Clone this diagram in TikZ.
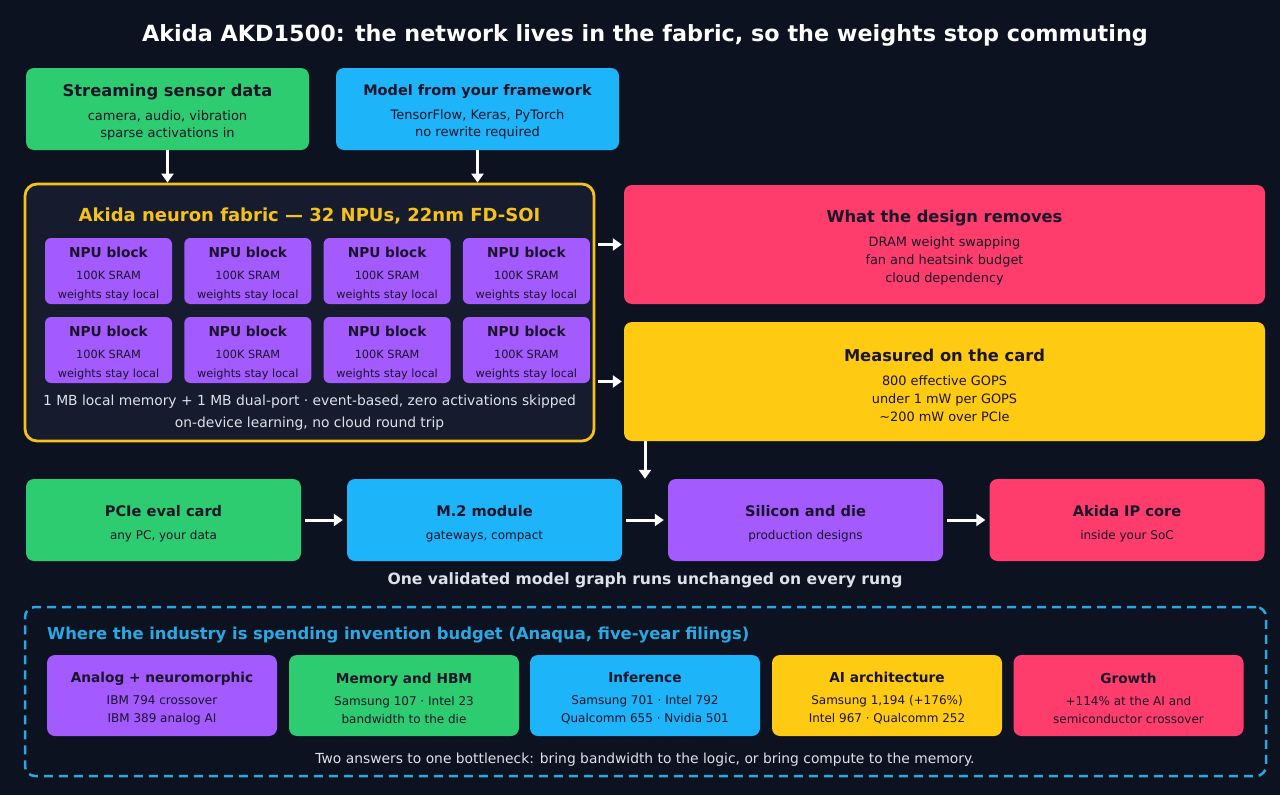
\documentclass[tikz,border=0pt]{standalone}
\usepackage{fontspec}
\setmainfont{DejaVu Sans}
\usetikzlibrary{arrows.meta, positioning}
\definecolor{bgc}{HTML}{0D1220}
\definecolor{fabfill}{HTML}{161C2D}
\definecolor{fabline}{HTML}{F5C21B}
\definecolor{ink}{HTML}{1A1528}
\definecolor{soft}{HTML}{DCE1EA}
\definecolor{cgreen}{HTML}{2ECC71}
\definecolor{cblue}{HTML}{1EB4FA}
\definecolor{cpurple}{HTML}{A35BFF}
\definecolor{cpink}{HTML}{FF3D6C}
\definecolor{cyellow}{HTML}{FFCA12}
\definecolor{dashblue}{HTML}{2AA8E2}
\tikzset{
    card/.style={rounded corners=8pt, text=ink, align=center, inner sep=0pt,
      minimum width=283pt, minimum height=82pt, font=\fontsize{13}{17.5}\selectfont},
    npu/.style={card, fill=cpurple, minimum width=127pt, minimum height=66pt,
      rounded corners=6pt, font=\fontsize{11.3}{19}\selectfont},
    filing/.style={card, minimum width=230pt, minimum height=81pt,
      font=\fontsize{12}{18}\selectfont},
    flow/.style={draw=white, line width=3pt, -{Triangle[width=12pt,length=9pt]}},
    note/.style={text=soft, align=center, font=\fontsize{13.85}{22}\selectfont}
  }
% bold heading line of a card, with a strut that sets the block a little lower
\newcommand{\hd}[2]{{\fontsize{#1}{#1}\selectfont\bfseries\rule{0pt}{1.2em}#2}}

\begin{document}
\begin{tikzpicture}[x=1pt, y=-1pt]
    \fill[bgc] (0,0) rectangle (1280,795);
    \node (title) at (645,35) [text=white, font=\fontsize{22.3}{26}\selectfont\bfseries] {Akida AKD1500: the network lives in the fabric, so the weights stop commuting};
    % inputs
    \node (sensor) at (167.5,109) [card, fill=cgreen] {\hd{16.3}{Streaming sensor data}\\[6pt]camera, audio, vibration\\sparse activations in};
    \node (model) at (477.5,109) [card, fill=cblue] {\hd{14.5}{Model from your framework}\\[6pt]TensorFlow, Keras, PyTorch\\no rewrite required};
    % fabric
    \node (fabric) at (309.5,312.5) [draw=fabline, line width=2.8pt, fill=fabfill, rounded corners=12pt, minimum width=569pt, minimum height=257pt] {};
    \node (fabtitle) at (309.5,216) [text=fabline, font=\fontsize{18}{20}\selectfont\bfseries] {Akida neuron fabric — 32 NPUs, 22nm FD-SOI};
    \foreach \r in {0,1}
      \foreach \c in {0,...,3}
        \node (npu-\r-\c) at ({108.5+139.3*\c},{271+79*\r}) [npu] {\hd{13.7}{NPU block}\\[3pt]100K SRAM\\weights stay local};
    \node (fabnote) at (309.5,413) [note] {1 MB local memory + 1 MB dual-port · event-based, zero activations skipped\\on-device learning, no cloud round trip};
    % outcomes
    \node (removes) at (944.5,244.5) [card, fill=cpink, minimum width=641pt, minimum height=119pt, font=\fontsize{12.9}{18}\selectfont] {\hd{16.3}{What the design removes}\\[6pt]DRAM weight swapping\\fan and heatsink budget\\cloud dependency};
    \node (measured) at (944.5,381.5) [card, fill=cyellow, minimum width=641pt, minimum height=119pt, font=\fontsize{12.9}{18}\selectfont] {\hd{16.3}{Measured on the card}\\[6pt]800 effective GOPS\\under 1 mW per GOPS\\\textasciitilde200 mW over PCIe};
    % deployment rungs
    \node (pcie) at (163.5,520) [card, fill=cgreen, minimum width=275pt, font=\fontsize{12}{18}\selectfont] {\hd{14.6}{PCIe eval card}\\[5pt]any PC, your data};
    \node (m2) at (484.5,520) [card, fill=cblue, minimum width=275pt, font=\fontsize{12}{18}\selectfont] {\hd{14.6}{M.2 module}\\[5pt]gateways, compact};
    \node (silicon) at (805.5,520) [card, fill=cpurple, minimum width=275pt, font=\fontsize{12}{18}\selectfont] {\hd{14.6}{Silicon and die}\\[5pt]production designs};
    \node (ipcore) at (1127,520) [card, fill=cpink, minimum width=275pt, font=\fontsize{12}{18}\selectfont] {\hd{14.6}{Akida IP core}\\[5pt]inside your SoC};
    \node (rungnote) at (645,580) [text=soft, font=\fontsize{15.6}{18}\selectfont\bfseries] {One validated model graph runs unchanged on every rung};
    \coordinate (drop) at (645,0);
    \draw[flow] (sensor.south) -- (sensor.south |- fabric.north);
    \draw[flow] (model.south) -- (model.south |- fabric.north);
    \draw[flow, shorten <=3pt, shorten >=2pt] (fabric.east |- removes.west) -- (removes.west);
    \draw[flow, shorten <=3pt, shorten >=2pt] (fabric.east |- measured.west) -- (measured.west);
    \draw[flow] (measured.south -| drop) -- (silicon.north -| drop);
    \draw[flow, shorten <=4pt, shorten >=4pt] (pcie) -- (m2);
    \draw[flow, shorten <=4pt, shorten >=4pt] (m2) -- (silicon);
    \draw[flow, shorten <=4pt, shorten >=4pt] (silicon) -- (ipcore);
    % patent filings
    \node (filings) at (645.5,691.5) [draw=dashblue, line width=2.5pt, dash pattern=on 9pt off 6pt, rounded corners=10pt, minimum width=1241pt, minimum height=169pt] {};
    \node (filehead) at (47,635.5) [anchor=west, inner sep=0pt, text=dashblue, font=\fontsize{16.4}{18}\selectfont\bfseries] {Where the industry is spending invention budget (Anaqua, five-year filings)};
    \foreach \x/\col/\ttl/\la/\lb [count=\i] in {
        162/cpurple/{Analog + neuromorphic}/{IBM 794 crossover}/{IBM 389 analog AI},
        404/cgreen/{Memory and HBM}/{Samsung 107 · Intel 23}/{bandwidth to the die},
        645/cblue/{Inference}/{Samsung 701 · Intel 792}/{Qualcomm 655 · Nvidia 501},
        887/cyellow/{AI architecture}/{Samsung 1,194 (+176\%)}/{Intel 967 · Qualcomm 252},
        1128.5/cpink/{Growth}/{+114\% at the AI and}/{semiconductor crossover}}
      \node (filing-\i) at (\x,695.5) [filing, fill=\col] {\hd{13.7}{\ttl}\\[4pt]\la\\\lb};
    \node (filenote) at (645,760) [note] {Two answers to one bottleneck: bring bandwidth to the logic, or bring compute to the memory.};
\end{tikzpicture}
\end{document}
